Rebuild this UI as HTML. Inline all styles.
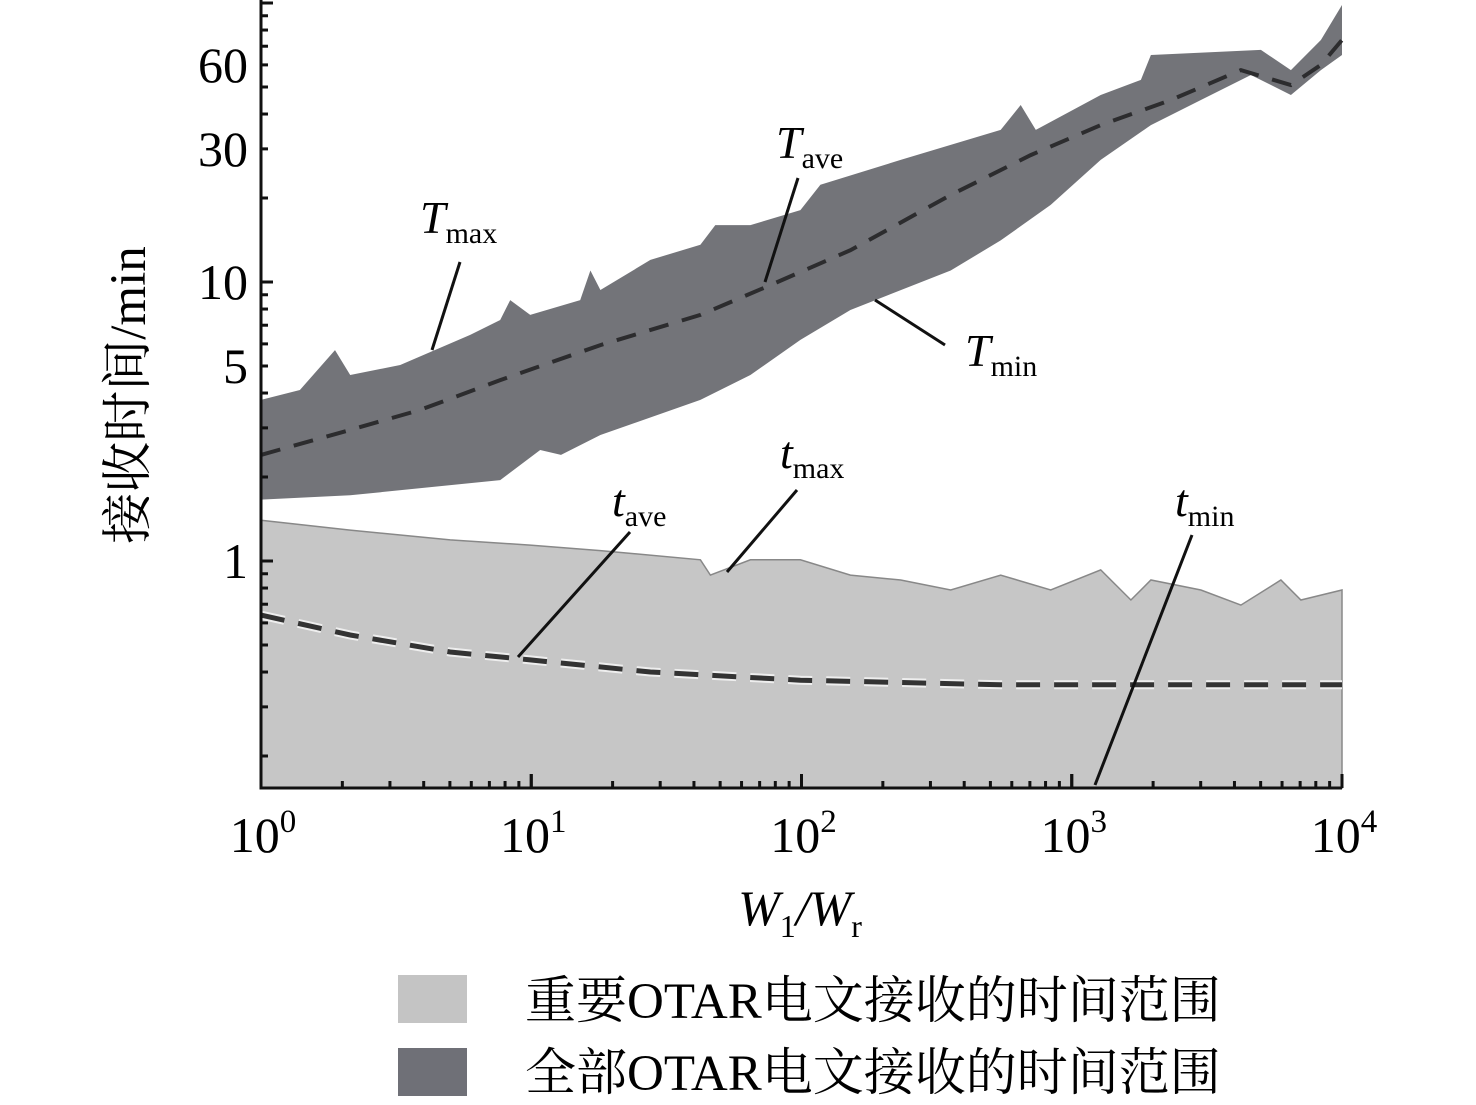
<!DOCTYPE html>
<html><head><meta charset="utf-8"><style>
body{margin:0;background:#fff;}
svg{display:block;font-family:"Liberation Serif","Noto Serif CJK SC",serif;}
</style></head><body>
<svg id="chart" width="1476" height="1105" viewBox="0 0 1476 1105">
<g id="plot"></g>
<g id="axes"></g>
<g stroke="#111" stroke-width="3" font-style="italic" font-size="46">
<line x1="460" y1="262" x2="432" y2="350"/>
<text x="420" y="233" stroke="none">T<tspan font-style="normal" font-size="30" dy="10">max</tspan></text>
<line x1="798" y1="178" x2="765" y2="282"/>
<text x="776" y="158" stroke="none">T<tspan font-style="normal" font-size="30" dy="10">ave</tspan></text>
<line x1="945" y1="345" x2="875" y2="300"/>
<text x="965" y="366" stroke="none">T<tspan font-style="normal" font-size="30" dy="10">min</tspan></text>
<line x1="797" y1="490" x2="727" y2="572"/>
<text x="780" y="468" stroke="none">t<tspan font-style="normal" font-size="30" dy="10">max</tspan></text>
<line x1="630" y1="532" x2="518" y2="657"/>
<text x="612" y="516" stroke="none">t<tspan font-style="normal" font-size="30" dy="10">ave</tspan></text>
<line x1="1192" y1="535" x2="1095" y2="785"/>
<text x="1175" y="516" stroke="none">t<tspan font-style="normal" font-size="30" dy="10">min</tspan></text>
</g>
<text x="800" y="925" text-anchor="middle" font-size="50" font-style="italic">W<tspan font-style="normal" font-size="32" dy="12">1</tspan><tspan dy="-12">/W</tspan><tspan font-style="normal" font-size="32" dy="12">r</tspan></text>
<text transform="translate(145,395) rotate(-90)" text-anchor="middle" font-size="51">接收时间/min</text>
<g font-size="51">
<rect x="398" y="975" width="69" height="48" fill="#c4c4c4"/>
<text x="525" y="1018">重要OTAR电文接收的时间范围</text>
<rect x="398" y="1048" width="69" height="48" fill="#6f7077"/>
<text x="525" y="1090">全部OTAR电文接收的时间范围</text>
</g>
</svg>
<script>
const TmaxX=[0,.144,.274,.33,.515,.774,.885,.922,.996,1.181,1.219,1.256,1.441,1.626,1.681,1.811,1.996,2.07,2.367,2.737,2.811,2.867,3.107,3.256,3.293,3.7,3.811,3.922,4];
const TmaxV=[3.78,4.10,5.70,4.64,5.04,6.46,7.31,8.61,7.62,8.61,11.0,9.36,12.0,13.6,16.0,16.0,18.1,22.3,27.4,35.1,43.1,35.1,46.8,53.0,65.1,67.9,57.5,73.7,98.4];
const TminX=[0,.33,.885,1.033,1.11,1.256,1.626,1.811,1.996,2.181,2.552,2.737,2.922,3.107,3.293,3.478,3.663,3.811,3.922,4];
const TminV=[1.66,1.72,1.95,2.50,2.40,2.83,3.78,4.64,6.20,7.94,11.0,14.1,18.9,27.4,36.5,44.9,55.2,46.8,57.5,65.1];
const TaveX=[0,.33,.589,.885,1.256,1.626,1.885,2.181,2.552,2.848,3.107,3.367,3.626,3.811,3.922,4];
const TaveV=[2.40,2.95,3.48,4.45,5.94,7.62,9.75,13.0,20.5,28.5,36.5,44.9,57.5,50.8,60.0,73.7];
const tmaxX=[0,.33,.70,.996,1.256,1.626,1.663,1.811,1.996,2.181,2.367,2.552,2.737,2.922,3.107,3.219,3.293,3.478,3.626,3.774,3.848,4];
const tmaxV=[1.40,1.29,1.19,1.14,1.09,1.01,0.89,1.01,1.01,0.89,0.855,0.787,0.89,0.787,0.929,0.725,0.855,0.787,0.695,0.855,0.725,0.787];
const taveX=[0,.33,.70,.996,1.441,1.996,2.737,4];
const taveV=[0.640,0.543,0.472,0.442,0.400,0.374,0.360,0.360];
const yTicks=[1,5,10,30,60];
const xTicks=[0,1,2,3,4];

const NS="http://www.w3.org/2000/svg";
const X0=261,XD=270.25,Y1=561,YD=279,YB=788;
const sx=l=>X0+l*XD;
const sy=v=>Y1-Math.log10(v)*YD;
const plot=document.getElementById('plot'),axes=document.getElementById('axes');
function mk(tag,attrs,parent){const e=document.createElementNS(NS,tag);for(const k in attrs)e.setAttribute(k,attrs[k]);parent.appendChild(e);return e;}
function pts(xs,vs){return xs.map((x,i)=>sx(x).toFixed(1)+','+sy(vs[i]).toFixed(1));}

let p=mk('polygon',{points:pts(tmaxX,tmaxV).join(' ')+' '+sx(4)+','+YB+' '+sx(0)+','+YB,fill:'#c6c6c6',stroke:'#888','stroke-width':1.5},plot);


let rx=TminX.slice().reverse(),rv=TminV.slice().reverse();
p=mk('polygon',{points:pts(TmaxX,TmaxV).concat(pts(rx,rv)).join(' '),fill:'#737479'},plot);


p=mk('polyline',{points:pts(taveX,taveV).join(' '),fill:'none',stroke:'#eee','stroke-width':9,'stroke-dasharray':'24 14'},plot);


p=mk('polyline',{points:pts(taveX,taveV).join(' '),fill:'none',stroke:'#333','stroke-width':5,'stroke-dasharray':'24 14'},plot);


p=mk('polyline',{points:pts(TaveX,TaveV).join(' '),fill:'none',stroke:'#2c2c2e','stroke-width':4,'stroke-dasharray':'20 14'},plot);



let a=mk('line',{x1:X0,y1:0,x2:X0,y2:YB+1.5,stroke:'#111','stroke-width':3},axes);


a=mk('line',{x1:X0-1.5,y1:YB,x2:sx(4),y2:YB,stroke:'#111','stroke-width':3},axes);


for(let d=-1;d<=2;d++)for(let m=1;m<10;m++){const v=m*Math.pow(10,d);const y=sy(v);if(y<0||y>YB)continue;
 const major=(m===1);const t=mk('line',{x1:X0,y1:y,x2:X0+(major?12:7),y2:y,stroke:'#111','stroke-width':3},axes);
 
 }
yTicks.forEach(v=>{const t=mk('text',{x:X0-13,y:sy(v)+17,'text-anchor':'end','font-size':50},axes);t.textContent=v;
 
 });
for(let d=0;d<4;d++)for(let m=1;m<=10;m++){const x=sx(d+Math.log10(m));const major=(m===1||m===10);
 const t=mk('line',{x1:x,y1:YB,x2:x,y2:YB-(major?14:7),stroke:'#111','stroke-width':3},axes);
 
 }
xTicks.forEach(l=>{const t=mk('text',{x:sx(l)+2,y:852,'text-anchor':'middle','font-size':50},axes);
 t.appendChild(document.createTextNode('10'));const s=mk('tspan',{'font-size':33,dy:-20},t);s.textContent=l;
 
 });
</script>
</body></html>
